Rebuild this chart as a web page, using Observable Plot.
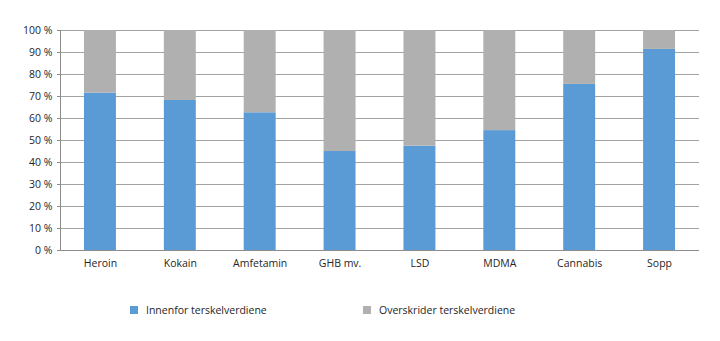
<!DOCTYPE html>
<html>
<head>
<meta charset="utf-8">
<script src="https://cdn.jsdelivr.net/npm/d3@7"></script>
<script src="https://cdn.jsdelivr.net/npm/@observablehq/plot@0.6"></script>
<style>
  html, body { margin: 0; padding: 0; background: #fff; }
  #wrap { position: relative; width: 720px; height: 341px; font-family: "Open Sans", sans-serif; }
  .leg { position: absolute; top: 303px; font-size: 10.5px; color: #262626; display: flex; align-items: center; }
  .sw { width: 8px; height: 8px; margin-right: 8px; }
</style>
</head>
<body>
<div id="wrap"></div>
<script>
const categories = ["Heroin", "Kokain", "Amfetamin", "GHB mv.", "LSD", "MDMA", "Cannabis", "Sopp"];
const innenfor = [71.5, 68.2, 62.6, 45.0, 47.4, 54.5, 75.5, 91.4];
const overskrider = [28.5, 31.8, 37.4, 55.0, 52.6, 45.5, 24.5, 8.6];
const seriesNames = ["Innenfor terskelverdiene", "Overskrider terskelverdiene"];
const seriesColors = ["#5b9bd5", "#b0b0b0"];
const yTicks = [0, 10, 20, 30, 40, 50, 60, 70, 80, 90, 100];

const data = [];
categories.forEach((c, i) => {
  data.push({cat: c, series: seriesNames[0], value: innenfor[i]});
  data.push({cat: c, series: seriesNames[1], value: overskrider[i]});
});

const chart = Plot.plot({
  width: 720,
  height: 275,
  marginTop: 30,
  marginBottom: 25,
  marginLeft: 60,
  marginRight: 21,
  style: {fontFamily: "Open Sans, sans-serif", fontSize: "10.5px", color: "#262626"},
  x: {domain: categories, paddingInner: 0.6, paddingOuter: 0.3, round: false, label: null},
  y: {domain: [0, 100], label: null},
  color: {domain: seriesNames, range: seriesColors},
  marks: [
    Plot.gridY(yTicks, {stroke: "#8c8c8c", strokeOpacity: 0.8}),
    Plot.barY(data, Plot.stackY({x: "cat", y: "value", fill: "series", order: seriesNames})),
    Plot.ruleY([0], {stroke: "#8c8c8c"}),
    Plot.axisY({ticks: yTicks, tickFormat: d => `${d} %`, tickSize: 3, tickPadding: 5, stroke: "#8c8c8c", label: null}),
    Plot.axisX({tickSize: 0, tickPadding: 9, label: null})
  ]
});
const wrap = document.getElementById("wrap");
wrap.appendChild(chart);
const svg = d3.select(chart);
const yScale = chart.scale("y");
svg.append("line")
  .attr("x1", 60.5).attr("x2", 60.5)
  .attr("y1", yScale.apply(100)).attr("y2", yScale.apply(0))
  .attr("stroke", "#8c8c8c");

const legendPos = [130, 363];
seriesNames.forEach((s, i) => {
  const d = document.createElement("div");
  d.className = "leg";
  d.style.left = legendPos[i] + "px";
  d.innerHTML = `<span class="sw" style="background:${seriesColors[i]}"></span><span>${s}</span>`;
  wrap.appendChild(d);
});
</script>
</body>
</html>
